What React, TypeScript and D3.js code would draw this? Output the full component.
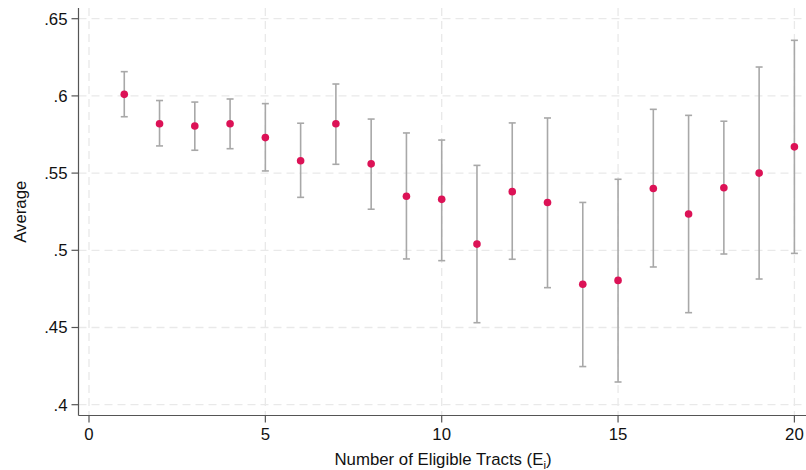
import React, { useEffect, useRef } from 'react';
import * as d3 from 'd3';

// Eligible tract counts and estimated averages with 95% CI bounds
const tracts = [1, 2, 3, 4, 5, 6, 7, 8, 9, 10, 11, 12, 13, 14, 15, 16, 17, 18, 19, 20];
const means = [0.601, 0.582, 0.5805, 0.582, 0.573, 0.558, 0.582, 0.556, 0.535, 0.533, 0.504, 0.538, 0.531, 0.478, 0.4805, 0.540, 0.5235, 0.5405, 0.550, 0.567];
const upper = [0.6157, 0.597, 0.596, 0.598, 0.595, 0.5823, 0.6077, 0.585, 0.576, 0.5714, 0.555, 0.5825, 0.5857, 0.531, 0.546, 0.5913, 0.5874, 0.5836, 0.6187, 0.636];
const lower = [0.5865, 0.5676, 0.5648, 0.5658, 0.5514, 0.5343, 0.5557, 0.5266, 0.4944, 0.4933, 0.4531, 0.4942, 0.4758, 0.4247, 0.4147, 0.4892, 0.4596, 0.4976, 0.4814, 0.498];

const xTicks = [0, 5, 10, 15, 20];
const yTicks = [0.4, 0.45, 0.5, 0.55, 0.6, 0.65];
const yTickLabels = ['.4', '.45', '.5', '.55', '.6', '.65'];

const WIDTH = 806;
const HEIGHT = 470;

const App: React.FC = () => {
  const svgRef = useRef<SVGSVGElement>(null);

  useEffect(() => {
    const svg = d3.select(svgRef.current);
    svg.selectAll('*').remove();

    const left = 78.5;
    const top = 8;
    const bottom = 415.5;
    const right = 806;
    const font = 'Helvetica, Arial, "Liberation Sans", sans-serif';
    const fs = 16.8;

    const x = d3.scaleLinear().domain([0, 20]).range([89, 794.4]);
    const y = d3.scaleLinear().domain([0.4, 0.65]).range([404.7, 18.7]);

    svg.append('rect').attr('width', WIDTH).attr('height', HEIGHT).attr('fill', '#fff');

    // Grid
    const grid = svg.append('g')
      .attr('stroke', '#e9e9e9')
      .attr('stroke-width', 1.3)
      .attr('stroke-dasharray', '8,5');

    grid.selectAll('.hg')
      .data(yTicks)
      .enter().append('line')
      .attr('x1', left).attr('x2', right)
      .attr('y1', d => y(d)).attr('y2', d => y(d));

    grid.selectAll('.vg')
      .data(xTicks)
      .enter().append('line')
      .attr('y1', top).attr('y2', bottom)
      .attr('x1', d => x(d)).attr('x2', d => x(d));

    // Error bars
    const bars = svg.append('g')
      .attr('stroke', '#a8a8a8')
      .attr('stroke-width', 1.6);

    const idx = d3.range(tracts.length);

    bars.selectAll('.vbar')
      .data(idx)
      .enter().append('line')
      .attr('x1', i => x(tracts[i])).attr('x2', i => x(tracts[i]))
      .attr('y1', i => y(upper[i])).attr('y2', i => y(lower[i]));

    bars.selectAll('.capu')
      .data(idx)
      .enter().append('line')
      .attr('x1', i => x(tracts[i]) - 3.5).attr('x2', i => x(tracts[i]) + 3.5)
      .attr('y1', i => y(upper[i])).attr('y2', i => y(upper[i]));

    bars.selectAll('.capl')
      .data(idx)
      .enter().append('line')
      .attr('x1', i => x(tracts[i]) - 3.5).attr('x2', i => x(tracts[i]) + 3.5)
      .attr('y1', i => y(lower[i])).attr('y2', i => y(lower[i]));

    // Points
    svg.append('g')
      .selectAll('circle')
      .data(idx)
      .enter().append('circle')
      .attr('cx', i => x(tracts[i]))
      .attr('cy', i => y(means[i]))
      .attr('r', 3.8)
      .attr('fill', '#dc1256');

    // Axes
    const axes = svg.append('g').attr('stroke', '#555').attr('stroke-width', 1.2);
    axes.append('line').attr('x1', left).attr('x2', left).attr('y1', top).attr('y2', bottom);
    axes.append('line').attr('x1', left).attr('x2', right).attr('y1', bottom).attr('y2', bottom);

    axes.selectAll('.yt')
      .data(yTicks)
      .enter().append('line')
      .attr('x1', left - 7).attr('x2', left)
      .attr('y1', d => y(d)).attr('y2', d => y(d));

    axes.selectAll('.xt')
      .data(xTicks)
      .enter().append('line')
      .attr('x1', d => x(d)).attr('x2', d => x(d))
      .attr('y1', bottom).attr('y2', bottom + 7);

    svg.append('g')
      .selectAll('text')
      .data(yTicks)
      .enter().append('text')
      .attr('x', left - 11)
      .attr('y', d => y(d))
      .attr('dy', '0.35em')
      .attr('text-anchor', 'end')
      .attr('font-family', font)
      .attr('font-size', fs)
      .attr('fill', '#111')
      .text((d, i) => yTickLabels[i]);

    svg.append('g')
      .selectAll('text')
      .data(xTicks)
      .enter().append('text')
      .attr('x', d => x(d))
      .attr('y', 440)
      .attr('text-anchor', 'middle')
      .attr('font-family', font)
      .attr('font-size', fs)
      .attr('fill', '#111')
      .text(d => d);

    // Axis titles
    svg.append('text')
      .attr('transform', `translate(26,${(top + bottom) / 2}) rotate(-90)`)
      .attr('text-anchor', 'middle')
      .attr('font-family', font)
      .attr('font-size', fs)
      .attr('fill', '#111')
      .text('Average');

    const xt = svg.append('text')
      .attr('x', 443)
      .attr('y', 465)
      .attr('text-anchor', 'middle')
      .attr('font-family', font)
      .attr('font-size', fs)
      .attr('fill', '#111');
    xt.append('tspan').text('Number of Eligible Tracts (E');
    xt.append('tspan').attr('font-size', 11.5).attr('dy', 4).text('i');
    xt.append('tspan').attr('dy', -4).text(')');
  }, []);

  return (
    <svg
      ref={svgRef}
      width={WIDTH}
      height={HEIGHT}
      style={{ position: 'absolute', left: 0, top: 0 }}
    ></svg>
  );
};

export default App;
